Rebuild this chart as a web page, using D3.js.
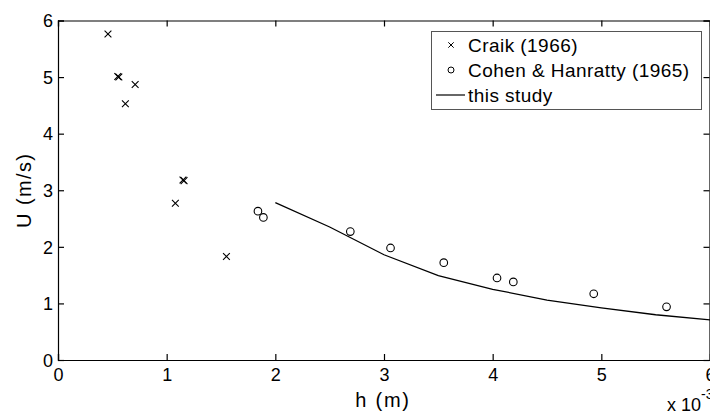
<!DOCTYPE html>
<html>
<head>
<meta charset="utf-8">
<script src="https://cdn.jsdelivr.net/npm/d3@7"></script>
<style>
  body { margin: 0; background: #fff; }
  svg { display: block; font-family: "Liberation Sans", Arial, sans-serif; }
</style>
</head>
<body>
<div id="chart"></div>
<script>
// Craik (1966) — h in units of 1e-3 m, U in m/s
let craikH = [0.46, 0.55, 0.56, 0.71, 0.62, 1.15, 1.16, 1.08, 1.55];
let craikU = [5.76, 5.01, 5.00, 4.87, 4.53, 3.18, 3.17, 2.77, 1.83];
// Cohen & Hanratty (1965)
let cohenH = [1.84, 1.89, 2.69, 3.06, 3.55, 4.04, 4.19, 4.93, 5.60];
let cohenU = [2.63, 2.52, 2.27, 1.98, 1.72, 1.45, 1.38, 1.17, 0.94];
// this study
let studyH = [2.0, 2.5, 3.0, 3.5, 4.0, 4.5, 5.0, 5.5, 6.0];
let studyU = [2.78, 2.35, 1.86, 1.49, 1.25, 1.06, 0.92, 0.80, 0.71];

let xTicks = [0, 1, 2, 3, 4, 5, 6];
let yTicks = [0, 1, 2, 3, 4, 5, 6];
let legendLabels = ["Craik (1966)", "Cohen & Hanratty (1965)", "this study"];

let width = 710;
let height = 412;
let plot = { left: 58, right: 710, top: 20.5, bottom: 360 };

let svg = d3.select("#chart").append("svg")
    .attr("width", width)
    .attr("height", height);

let x = d3.scaleLinear().domain([0, 6]).range([plot.left, plot.right]);
let y = d3.scaleLinear().domain([0, 6]).range([plot.bottom, plot.top]);

// x marker path
function cross (s) {
    return `M${-s},${-s}L${s},${s}M${-s},${s}L${s},${-s}`;
}

//坐标轴
function drawAxes () {
    let tick = 6;
    let gx = svg.append("g").attr("transform", `translate(0,${plot.bottom})`);
    gx.call(d3.axisBottom(x).tickValues(xTicks).tickSize(-tick).tickPadding(8).tickFormat(d3.format("d")));
    let gxTop = svg.append("g").attr("transform", `translate(0,${plot.top})`);
    gxTop.call(d3.axisTop(x).tickValues(xTicks).tickSize(-tick).tickFormat(""));
    let gy = svg.append("g").attr("transform", `translate(${plot.left},0)`);
    gy.call(d3.axisLeft(y).tickValues(yTicks).tickSize(-tick).tickPadding(5).tickFormat(d3.format("d")));
    let gyRight = svg.append("g").attr("transform", `translate(${plot.right - 0.5},0)`);
    gyRight.call(d3.axisRight(y).tickValues(yTicks).tickSize(-tick).tickFormat(""));

    [gx, gxTop, gy, gyRight].forEach(g => {
        g.select(".domain").attr("stroke", "#000").attr("stroke-width", 1.2);
        g.selectAll(".tick line").attr("stroke", "#000").attr("stroke-width", 1.2);
        g.selectAll(".tick text").attr("fill", "#000").attr("font-size", "18px")
            .attr("font-family", "'Liberation Sans', Arial, sans-serif");
    });
    gx.selectAll(".tick text").attr("dy", "0.71em");
    gy.selectAll(".tick text").attr("dy", "0.35em");

    svg.append("text")
        .attr("x", 383).attr("y", 407)
        .attr("text-anchor", "middle")
        .attr("font-size", "20px")
        .attr("letter-spacing", "1.8px")
        .text("h (m)");
    svg.append("text")
        .attr("transform", `translate(31,${(plot.top + plot.bottom) / 2}) rotate(-90)`)
        .attr("text-anchor", "middle")
        .attr("font-size", "20px")
        .attr("letter-spacing", "1.4px")
        .text("U (m/s)");
    let exp = svg.append("text")
        .attr("x", 667).attr("y", 411)
        .attr("font-size", "18px");
    exp.append("tspan").text("x 10");
    exp.append("tspan").attr("dy", -12).attr("font-size", "14px").text("-3");
}

//数据
function drawData () {
    let line = d3.line().x((d, i) => x(studyH[i])).y(d => y(d));
    svg.append("path")
        .datum(studyU)
        .attr("d", line)
        .attr("fill", "none")
        .attr("stroke", "#000")
        .attr("stroke-width", 1.3);

    svg.append("g").selectAll("path")
        .data(craikU)
        .join("path")
        .attr("transform", (d, i) => `translate(${x(craikH[i])},${y(d)})`)
        .attr("d", cross(3.4))
        .attr("stroke", "#000")
        .attr("stroke-width", 1.1);

    svg.append("g").selectAll("circle")
        .data(cohenU)
        .join("circle")
        .attr("cx", (d, i) => x(cohenH[i]))
        .attr("cy", d => y(d))
        .attr("r", 3.8)
        .attr("fill", "none")
        .attr("stroke", "#000")
        .attr("stroke-width", 1.1);
}

//图例
function drawLegend () {
    let g = svg.append("g");
    g.append("rect")
        .attr("x", 431.5).attr("y", 31.5)
        .attr("width", 270).attr("height", 78)
        .attr("fill", "#fff")
        .attr("stroke", "#555")
        .attr("stroke-width", 1);
    let rows = g.selectAll("g.row")
        .data(legendLabels)
        .join("g")
        .attr("class", "row")
        .attr("transform", (d, i) => `translate(0,${45 + i * 25})`);
    rows.append("text")
        .attr("x", 468)
        .attr("y", 6.5)
        .attr("font-size", "19px")
        .attr("letter-spacing", "0.45px")
        .attr("fill", "#000")
        .text(d => d);
    rows.filter((d, i) => i === 0).append("path")
        .attr("transform", "translate(451,0)")
        .attr("d", cross(2.7))
        .attr("stroke", "#000");
    rows.filter((d, i) => i === 1).append("circle")
        .attr("cx", 451).attr("r", 3)
        .attr("fill", "none")
        .attr("stroke", "#000");
    rows.filter((d, i) => i === 2).append("line")
        .attr("x1", 436).attr("x2", 465)
        .attr("stroke", "#000")
        .attr("stroke-width", 1.2);
}

drawAxes();
drawData();
drawLegend();
</script>
</body>
</html>
